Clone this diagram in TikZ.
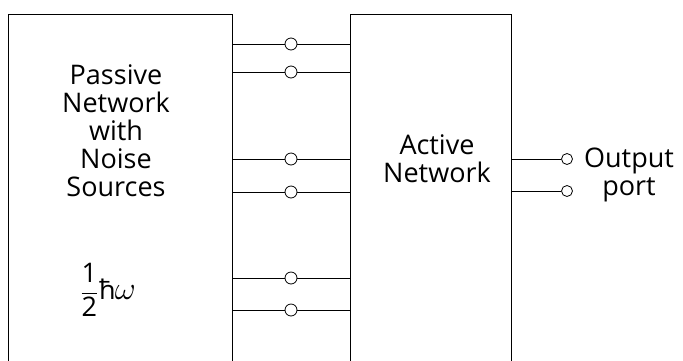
\documentclass[tikz,border=0pt]{standalone}
\usepackage{amsmath}
\usepackage{graphicx}
\usepackage{fontspec}
\setmainfont{Open Sans}
\usetikzlibrary{calc,positioning}

\tikzset{
  netbox/.style = {draw, line width=0.9pt, minimum width=#1, minimum height=360pt, anchor=north west, inner sep=0pt},
  term/.style = {draw, circle, fill=white, line width=0.8pt, inner sep=0pt, minimum width=11pt, minimum height=12pt},
  wire/.style = {line width=0.8pt}
}

\begin{document}
\begin{tikzpicture}[x=1pt, y=-1pt, font=\fontsize{27}{28}\selectfont]
\useasboundingbox (0,0) rectangle (683,360);
\clip (0,0) rectangle (683,360);
% the two networks
\node[netbox=224pt] (passive) at (8,14) {};
\node[netbox=161pt] (active) at (350,14) {};
\node[align=center] (ptext) at (116,131) {Passive\\Network\\with\\Noise\\Sources};
\node (zpe) at (108,290) {$\dfrac{\text{1}}{\text{2}}$\kern1pt ħ\kern-1pt\scalebox{1.3}{$\omega$}};
\node[align=center] (atext) at (437,159) {Active\\Network};
% ports between them
\foreach \n/\y in {1/44,2/72,3/159,4/192,5/278,6/310} {
  \coordinate (l\n) at (passive.east |- 0,\y);
  \coordinate (r\n) at (active.west |- 0,\y);
  \draw[wire] (l\n) -- (r\n);
  \node[term] (t\n) at (291,\y) {};
}
% output port
\foreach \n/\y in {1/159,2/191} {
  \coordinate (o\n) at (active.east |- 0,\y);
  \node[term, minimum width=10pt, minimum height=11pt] (out\n) at (567,\y) {};
  \draw[wire] (o\n) -- (out\n);
}
\node[align=center] (otext) at (629,175) {Output\\port};
\end{tikzpicture}
\end{document}
